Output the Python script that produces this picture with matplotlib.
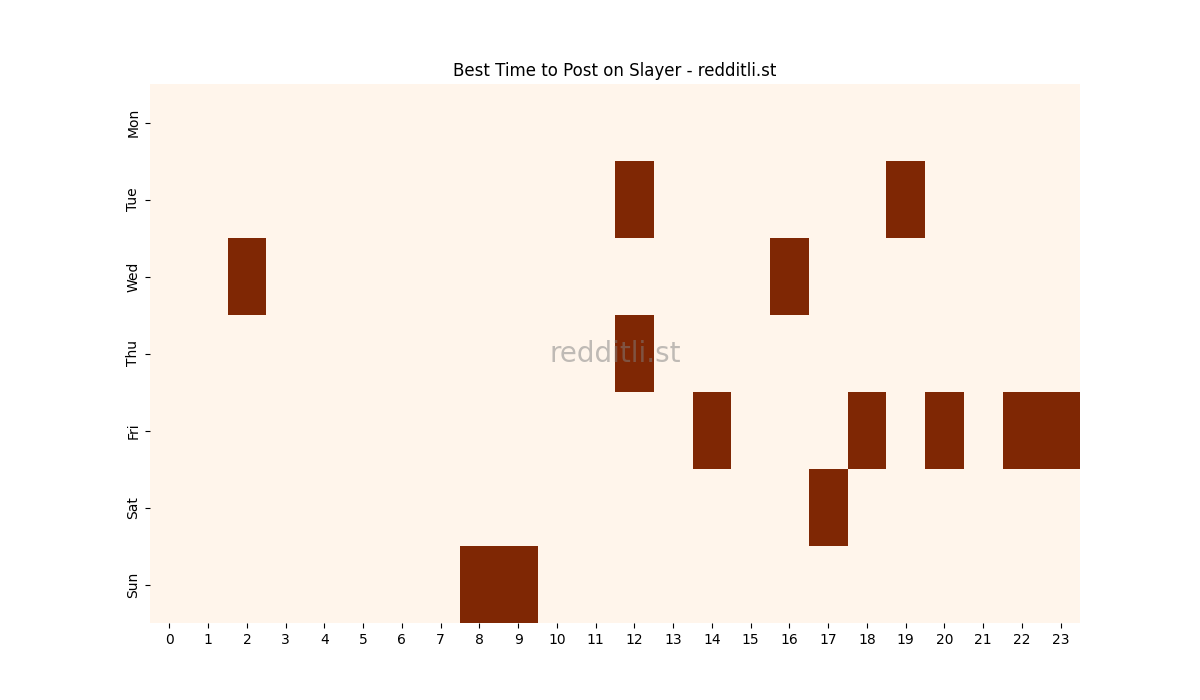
import matplotlib
matplotlib.use("Agg")
import matplotlib.pyplot as plt
import numpy as np
import seaborn as sns

days = ["Mon", "Tue", "Wed", "Thu", "Fri", "Sat", "Sun"]
hours = list(range(24))
best_hours = {
    "Mon": [],
    "Tue": [12, 19],
    "Wed": [2, 16],
    "Thu": [12],
    "Fri": [14, 18, 20, 22, 23],
    "Sat": [17],
    "Sun": [8, 9],
}

data = np.zeros((len(days), len(hours)))
for i, d in enumerate(days):
    for h in best_hours[d]:
        data[i, h] = 1

fig, ax = plt.subplots(figsize=(12, 7), dpi=100)
sns.heatmap(data, cmap="Oranges", cbar=False, ax=ax,
            xticklabels=hours, yticklabels=days)
ax.set_title("Best Time to Post on Slayer - redditli.st")
ax.tick_params(axis="x", rotation=0)
ax.tick_params(axis="y", rotation=90)
for lbl in ax.get_yticklabels():
    lbl.set_va("center")
ax.text(0.5, 0.5, "redditli.st", transform=ax.transAxes, fontsize=20,
        color="gray", alpha=0.5, ha="center", va="center")
fig.savefig("out.png", dpi=100)
